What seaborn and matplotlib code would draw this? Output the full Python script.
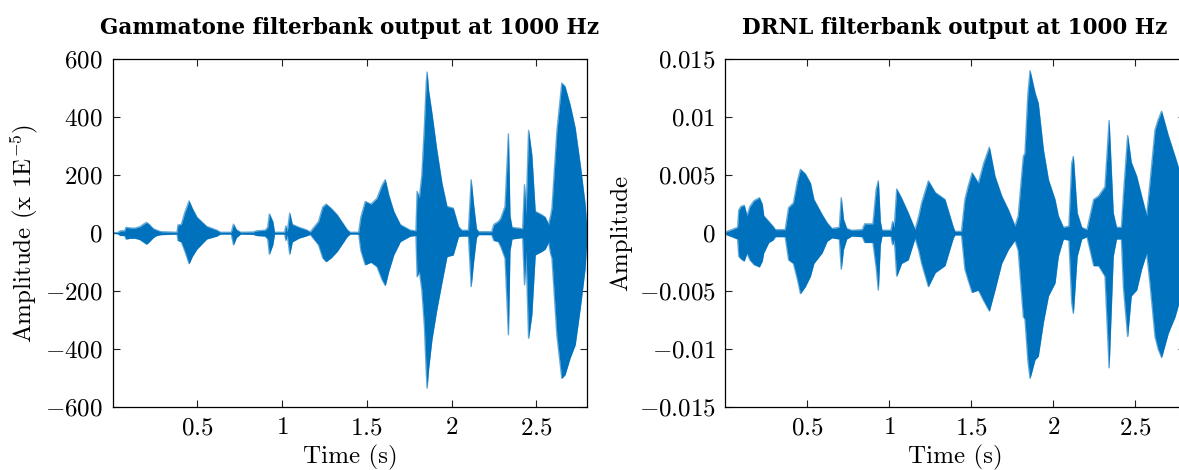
import matplotlib
matplotlib.use("Agg")
import matplotlib.pyplot as plt
import numpy as np
import pandas as pd
import seaborn as sns
from matplotlib.ticker import FixedLocator, FuncFormatter

# ---- Gammatone channel (1000 Hz): signal envelope, amplitude in units of 1E-5 ----
gt_time = [0.000, 0.030, 0.045, 0.070, 0.079, 0.100, 0.130, 0.160, 0.185, 0.200,
           0.215, 0.240, 0.260, 0.285, 0.380, 0.385, 0.405, 0.425, 0.451, 0.470,
           0.497, 0.555, 0.615, 0.635, 0.700, 0.713, 0.730, 0.755, 0.830, 0.850,
           0.900, 0.915, 0.925, 0.945, 0.955, 1.015, 1.022, 1.030, 1.045, 1.060,
           1.100, 1.140, 1.166, 1.215, 1.240, 1.260, 1.290, 1.325, 1.385, 1.402,
           1.452, 1.465, 1.491, 1.525, 1.560, 1.590, 1.609, 1.630, 1.659, 1.698,
           1.757, 1.790, 1.797, 1.810, 1.825, 1.840, 1.851, 1.856, 1.864, 1.884,
           1.913, 1.943, 1.973, 2.010, 2.041, 2.060, 2.100, 2.116, 2.130, 2.147,
           2.160, 2.237, 2.250, 2.276, 2.290, 2.316, 2.336, 2.345, 2.357, 2.420,
           2.431, 2.440, 2.455, 2.474, 2.494, 2.533, 2.553, 2.573, 2.585, 2.593,
           2.622, 2.651, 2.670, 2.700, 2.730, 2.760, 2.789, 2.800]
gt_upper = [0, 2, 8, 8, 20, 18, 17, 22, 32, 37,
            30, 15, 10, 5, 3, 28, 30, 70, 111, 85,
            55, 23, 10, 3, 3, 31, 12, 3, 4, 8,
            10, 20, 66, 40, 3, 3, 25, 3, 69, 30,
            20, 12, 4, 40, 90, 100, 85, 63, 11, 3,
            3, 55, 109, 100, 120, 165, 184, 130, 75, 29,
            10, 8, 144, 120, 200, 368, 520, 555, 494, 414,
            287, 173, 92, 86, 23, 10, 10, 184, 100, 15,
            5, 5, 30, 40, 50, 92, 342, 60, 20, 15,
            167, 60, 354, 270, 75, 63, 55, 30, 60, 86,
            350, 517, 505, 442, 362, 235, 98, 5]
gt_lower = [0, -2, -8, -8, -20, -18, -17, -22, -32, -38,
            -30, -15, -8, -5, -3, -25, -30, -60, -105, -80,
            -55, -20, -10, -3, -3, -40, -15, -3, -4, -8,
            -10, -20, -72, -40, -3, -3, -25, -3, -72, -30,
            -17, -10, -4, -40, -85, -98, -85, -63, -11, -3,
            -3, -60, -109, -100, -115, -160, -180, -130, -75, -29,
            -10, -8, -150, -130, -196, -322, -480, -534, -471, -368,
            -264, -171, -81, -75, -12, -10, -10, -184, -100, -15,
            -5, -5, -25, -29, -45, -86, -350, -60, -20, -15,
            -178, -60, -362, -282, -75, -63, -55, -30, -70, -86,
            -350, -500, -488, -430, -385, -258, -120, -5]

# ---- DRNL channel (1000 Hz): signal envelope, amplitude in units of 1E-3 ----
drnl_time = [0.000, 0.010, 0.040, 0.065, 0.075, 0.082, 0.095, 0.115, 0.132, 0.150,
             0.175, 0.208, 0.225, 0.234, 0.265, 0.290, 0.305, 0.365, 0.386, 0.415,
             0.440, 0.458, 0.488, 0.519, 0.540, 0.590, 0.620, 0.650, 0.695, 0.707,
             0.720, 0.740, 0.770, 0.835, 0.850, 0.900, 0.920, 0.933, 0.945, 0.955,
             1.010, 1.020, 1.030, 1.045, 1.075, 1.115, 1.157, 1.180, 1.197, 1.238,
             1.280, 1.339, 1.390, 1.400, 1.440, 1.461, 1.480, 1.505, 1.543, 1.575,
             1.610, 1.644, 1.685, 1.726, 1.766, 1.786, 1.817, 1.827, 1.845, 1.858,
             1.888, 1.908, 1.939, 1.970, 2.010, 2.030, 2.061, 2.095, 2.112, 2.122,
             2.145, 2.173, 2.205, 2.246, 2.276, 2.315, 2.340, 2.365, 2.385, 2.415,
             2.427, 2.453, 2.475, 2.508, 2.538, 2.569, 2.589, 2.620, 2.640, 2.660,
             2.701, 2.742, 2.766, 2.800]
drnl_upper = [0, 0.15, 0.3, 0.45, 0.5, 1.98, 2.3, 2.4, 1.5, 2.3,
              2.8, 3.05, 2.5, 1.5, 1.0, 0.6, 0.3, 0.3, 2.2, 2.6,
              4.5, 5.5, 5.1, 4.3, 2.9, 1.6, 0.9, 0.4, 0.5, 3.05,
              1.2, 0.4, 0.25, 0.3, 0.8, 0.8, 3.8, 4.5, 1.0, 0.25,
              0.25, 1.0, 0.5, 3.8, 3.0, 1.75, 0.3, 1.5, 2.6, 4.5,
              3.5, 2.9, 0.5, 0.15, 0.15, 2.9, 4.0, 5.2, 4.3, 6.0,
              7.4, 4.9, 3.2, 2.0, 0.6, 1.5, 6.6, 6.9, 12.0, 14.0,
              12.1, 11.2, 7.2, 4.6, 2.9, 1.5, 0.5, 0.6, 6.0, 6.6,
              1.75, 0.5, 0.3, 2.9, 3.2, 4.0, 9.7, 1.75, 0.5, 0.5,
              3.2, 8.4, 6.1, 4.9, 3.2, 1.5, 4.3, 8.9, 9.8, 10.5,
              8.4, 6.6, 5.5, 3.0]
drnl_lower = [0, -0.15, -0.3, -0.45, -0.5, -1.98, -2.2, -2.4, -1.7, -2.3,
              -2.7, -2.9, -2.4, -1.7, -0.8, -0.6, -0.3, -0.3, -2.3, -2.6,
              -4.0, -5.2, -4.6, -3.7, -2.6, -1.7, -0.7, -0.4, -0.5, -3.1,
              -1.4, -0.5, -0.25, -0.3, -0.8, -0.8, -3.0, -4.9, -1.0, -0.25,
              -0.25, -1.0, -0.5, -3.7, -2.6, -2.3, -0.4, -1.5, -2.6, -4.6,
              -3.4, -2.8, -0.4, -0.15, -0.15, -3.1, -4.0, -5.1, -4.9, -5.8,
              -6.7, -4.9, -2.6, -1.4, -0.6, -1.5, -7.2, -7.4, -11.0, -12.5,
              -10.9, -10.6, -7.7, -5.4, -4.3, -2.0, -0.5, -0.6, -6.0, -6.9,
              -2.0, -0.5, -0.3, -2.8, -2.8, -3.7, -11.6, -2.0, -0.5, -0.5,
              -4.6, -8.9, -5.4, -4.9, -3.1, -1.7, -4.3, -8.9, -10.0, -10.7,
              -8.6, -7.2, -6.0, -3.0]
drnl_unit = 1e-3

time_ticks = [0.5, 1, 1.5, 2, 2.5]
gt_ticks = [-600, -400, -200, 0, 200, 400, 600]
drnl_ticks = [-0.015, -0.01, -0.005, 0, 0.005, 0.01, 0.015]

gt_title = "Gammatone filterbank output at 1000 Hz"
drnl_title = "DRNL filterbank output at 1000 Hz"
gt_ylabel = r"Amplitude (x 1E$^{-5}$)"
drnl_ylabel = "Amplitude"
xlabel = "Time (s)"

wave_color = "#0072BD"

sns.set_theme(style="ticks")
plt.rcParams["font.family"] = ["cmr10", "DejaVu Serif"]
plt.rcParams["mathtext.fontset"] = "cm"
plt.rcParams["axes.unicode_minus"] = True
plt.rcParams["axes.formatter.use_mathtext"] = True
for key in ("text.color", "axes.labelcolor", "xtick.color", "ytick.color", "axes.edgecolor"):
    plt.rcParams[key] = "black"

fig = plt.figure(figsize=(11.79, 4.70), dpi=100)
ax_gt = fig.add_axes([0.0956, 0.1334, 0.4023, 0.741])
ax_dr = fig.add_axes([0.6152, 0.1334, 0.3895, 0.741])


def envelope_frame(t, hi, lo, scale=1.0):
    t = np.asarray(t, float)
    hi = np.asarray(hi, float) * scale
    lo = np.asarray(lo, float) * scale
    df = pd.DataFrame({
        "time": np.concatenate([t, t]),
        "amp": np.concatenate([hi, lo]),
        "edge": ["upper"] * len(t) + ["lower"] * len(t),
    })
    return t, hi, lo, df


def tick_fmt(v, pos):
    return f"${v:g}$"


panels = [
    (ax_gt, gt_time, gt_upper, gt_lower, 1.0, gt_ticks, (-600, 600), gt_title, gt_ylabel, -0.153),
    (ax_dr, drnl_time, drnl_upper, drnl_lower, drnl_unit, drnl_ticks, (-0.015, 0.015), drnl_title, drnl_ylabel, -0.203),
]

for ax, t, hi, lo, sc, yt, ylim, title, ylab, ylab_x in panels:
    tt, hh, ll, df = envelope_frame(t, hi, lo, sc)
    ax.fill_between(tt, ll, hh, color=wave_color, linewidth=0)
    sns.lineplot(data=df, x="time", y="amp", units="edge", estimator=None,
                 color=wave_color, linewidth=1.0, alpha=0.6, ax=ax, legend=False)
    ax.set_xlim(0, 2.8)
    ax.set_ylim(*ylim)
    ax.xaxis.set_major_locator(FixedLocator(time_ticks))
    ax.yaxis.set_major_locator(FixedLocator(yt))
    ax.xaxis.set_major_formatter(FuncFormatter(tick_fmt))
    ax.yaxis.set_major_formatter(FuncFormatter(tick_fmt))
    ax.tick_params(axis="both", which="major", direction="in", top=True, right=True,
                   length=5, width=0.8, color="#222222", labelsize=18, pad=7,
                   labelcolor="black")
    for sp in ax.spines.values():
        sp.set_linewidth(0.9)
        sp.set_color("black")
    ax.set_title(title, family="DejaVu Serif", fontweight="bold", fontsize=15.5,
                 pad=18, color="black")
    ax.set_xlabel(xlabel, fontsize=18, labelpad=4)
    ax.set_ylabel(ylab, fontsize=18)
    ax.yaxis.set_label_coords(ylab_x, 0.5)

fig.savefig("out.png", dpi=100)
